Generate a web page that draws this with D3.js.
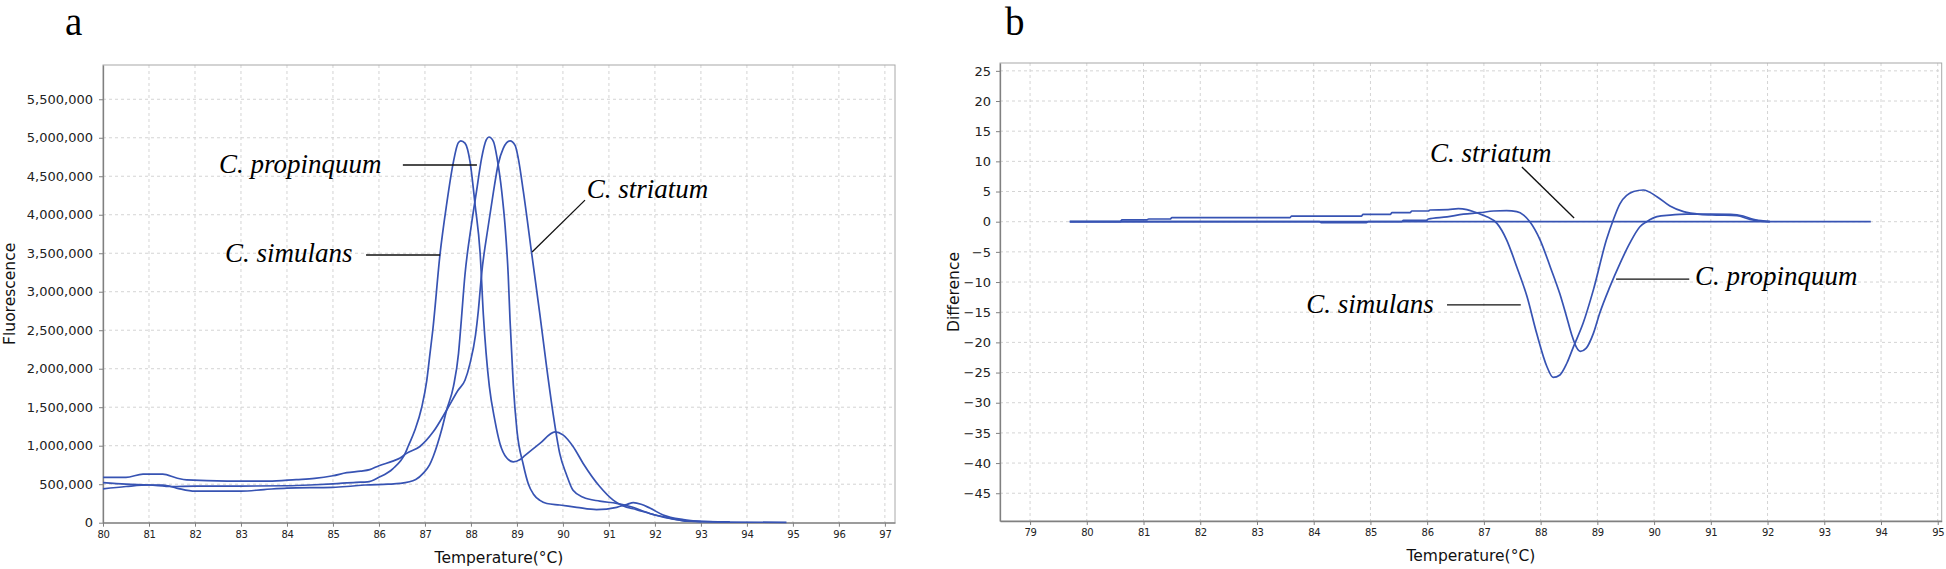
<!DOCTYPE html>
<html>
<head>
<meta charset="utf-8">
<script src="https://cdn.jsdelivr.net/npm/d3@7"></script>
<style>
  body { margin: 0; background: #fff; }
  .tick text { fill: #222; }
</style>
</head>
<body>
<svg id="chart" width="1946" height="569"></svg>
<script>
// ---- panel a : melt curves (fluorescence) ----
const temp_simulans_a = [80.0, 80.5, 81.0, 81.5, 82.0, 83.0, 84.0, 84.5, 85.0, 85.5, 85.75, 86.0, 86.3, 86.57, 86.64, 86.78, 86.93, 87.04, 87.11, 87.17, 87.33, 87.47, 87.62, 87.72, 87.78, 87.87, 87.98, 88.09, 88.2, 88.27, 88.33, 88.4, 88.52, 88.63, 88.78, 88.92, 89.07, 89.17, 89.5, 89.83, 90.0, 90.22, 90.44, 90.8, 91.1, 91.3, 91.6, 92.0, 92.4, 92.8, 93.63]
const fluo_simulans_a = [520000, 500000, 490000, 470000, 475000, 475000, 480000, 490000, 505000, 525000, 530000, 590000, 700000, 900000, 1000000, 1200000, 1500000, 1850000, 2200000, 2500000, 3500000, 4130000, 4690000, 4930000, 4960000, 4930000, 4690000, 4130000, 3500000, 2700000, 2200000, 1770000, 1330000, 1030000, 840000, 790000, 820000, 870000, 1030000, 1180000, 1140000, 990000, 770000, 470000, 290000, 220000, 170000, 100000, 45000, 20000, 10000]

const temp_propinquum_a = [80.0, 80.5, 81.0, 81.3, 81.6, 82.0, 83.0, 83.5, 84.0, 85.0, 85.3, 85.7, 86.2, 86.46, 86.8, 86.96, 87.1, 87.18, 87.36, 87.47, 87.62, 87.73, 87.78, 87.87, 88.01, 88.12, 88.23, 88.33, 88.39, 88.49, 88.57, 88.67, 88.74, 88.81, 88.85, 88.92, 89.0, 89.14, 89.25, 89.36, 89.5, 89.65, 89.93, 90.3, 90.73, 91.17, 91.4, 91.53, 91.7, 91.89, 92.18, 92.62, 93.0]
const fluo_propinquum_a = [440000, 470000, 490000, 490000, 450000, 410000, 410000, 430000, 450000, 460000, 470000, 490000, 500000, 510000, 560000, 640000, 750000, 860000, 1200000, 1460000, 1770000, 2200000, 2550000, 3220000, 3870000, 4300000, 4730000, 4970000, 5010000, 4950000, 4730000, 4300000, 3870000, 3220000, 2630000, 1800000, 1200000, 750000, 500000, 370000, 290000, 250000, 230000, 200000, 170000, 200000, 240000, 260000, 240000, 190000, 100000, 40000, 15000]

const temp_striatum_a = [80.0, 80.5, 80.87, 81.3, 81.6, 81.82, 82.7, 83.6, 84.2, 84.6, 85.0, 85.3, 85.6, 85.8, 86.0, 86.3, 86.46, 86.6, 86.89, 87.18, 87.47, 87.72, 87.87, 87.98, 88.1, 88.16, 88.23, 88.38, 88.49, 88.59, 88.7, 88.85, 88.96, 89.03, 89.14, 89.32, 89.5, 89.65, 89.79, 89.93, 90.08, 90.22, 90.44, 90.8, 91.17, 91.46, 91.89, 92.33, 92.7, 93.5, 94.86]
const fluo_striatum_a = [590000, 590000, 630000, 630000, 580000, 555000, 540000, 540000, 560000, 575000, 610000, 650000, 670000, 690000, 740000, 800000, 840000, 900000, 990000, 1180000, 1460000, 1720000, 1850000, 2070000, 2440000, 2750000, 3220000, 3870000, 4300000, 4650000, 4860000, 4960000, 4900000, 4730000, 4300000, 3500000, 2700000, 2000000, 1400000, 900000, 620000, 420000, 330000, 280000, 250000, 210000, 120000, 60000, 20000, 8000, 5000]

// ---- panel b : difference plot (reference C. striatum) ----
const temp_simulans_b = [79.7, 80.59, 80.62, 81.06, 81.09, 81.47, 81.5, 83.58, 83.61, 84.84, 84.87, 85.35, 85.38, 85.7, 85.73, 86.02, 86.05, 86.37, 86.55, 86.7, 86.82, 86.95, 87.05, 87.23, 87.4, 87.58, 87.76, 87.93, 88.11, 88.22, 88.34, 88.46, 88.58, 88.75, 88.93, 89.16, 89.28, 89.4, 89.64, 89.81, 90.05, 90.28, 90.52, 90.81, 91.1, 91.46, 91.69, 91.87, 92.04]
const diff_simulans_b = [0, 0, 0.3, 0.3, 0.45, 0.45, 0.66, 0.66, 0.94, 0.94, 1.22, 1.22, 1.5, 1.5, 1.77, 1.77, 1.94, 2.0, 2.16, 2.0, 1.66, 1.2, 0.83, -0.28, -3.0, -7.5, -12.4, -18.5, -24.0, -25.8, -25.4, -23.5, -20.7, -16.8, -11.3, -3.0, 0.28, 3.0, 5.0, 5.25, 4.15, 2.6, 1.66, 1.22, 1.1, 1.0, 0.39, 0.1, 0]

const temp_propinquum_b = [79.7, 84.1, 84.13, 84.93, 84.96, 85.55, 85.58, 85.99, 86.02, 86.35, 86.64, 86.93, 87.17, 87.4, 87.58, 87.7, 87.81, 87.99, 88.17, 88.34, 88.45, 88.55, 88.63, 88.7, 88.8, 88.93, 89.04, 89.22, 89.4, 89.57, 89.75, 89.87, 90.05, 90.28, 90.58, 91.0, 91.35, 91.57, 91.75, 91.98, 92.04]
const diff_propinquum_b = [0, 0, -0.17, -0.17, 0, 0, 0.22, 0.22, 0.45, 0.8, 1.25, 1.49, 1.77, 1.82, 1.66, 1.1, 0, -3.0, -7.5, -12.0, -15.5, -18.8, -20.8, -21.5, -21.0, -18.5, -15.2, -10.8, -6.9, -3.6, -0.83, 0, 0.83, 1.1, 1.27, 1.27, 1.22, 0.94, 0.39, 0.06, 0]

const temp_striatum_b = [79.7, 93.82]
const diff_striatum_b = [0, 0]

// axis ticks
const ticks_x_a = d3.range(80, 98)
const ticks_y_a = d3.range(0, 5500001, 500000)
const ticks_x_b = d3.range(79, 96)
const ticks_y_b = d3.range(-45, 26, 5)

const svg = d3.select("#chart")
const curveColor = "#3753b3"

function zipSeries(ts, vs){
  return ts.map(function(t, i){ return [t, vs[i]] })
}

function drawPanel(cfg){
  const x = d3.scaleLinear().domain(cfg.xDomain).range([cfg.left, cfg.right])
  const y = d3.scaleLinear().domain(cfg.yDomain).range([cfg.bottom, cfg.top])
  const g = svg.append("g")

  // grille pointillée
  g.selectAll("line.vgrid").data(cfg.xTicks.filter(function(d){ return x(d) > cfg.left + 2 }))
    .enter().append("line")
    .attr("x1", function(d){ return x(d) }).attr("x2", function(d){ return x(d) })
    .attr("y1", cfg.top).attr("y2", cfg.bottom)
    .attr("stroke", "#d4d4d4").attr("stroke-dasharray", "3,3")
  g.selectAll("line.hgrid").data(cfg.yTicks.filter(function(d){ return y(d) < cfg.bottom - 2 }))
    .enter().append("line")
    .attr("x1", cfg.left).attr("x2", cfg.right)
    .attr("y1", function(d){ return y(d) }).attr("y2", function(d){ return y(d) })
    .attr("stroke", "#d4d4d4").attr("stroke-dasharray", "3,3")

  // cadre
  g.append("rect")
    .attr("x", cfg.left).attr("y", cfg.top)
    .attr("width", cfg.right - cfg.left).attr("height", cfg.bottom - cfg.top)
    .attr("fill", "none").attr("stroke", "#a8a8a8")

  // axes
  const ax = g.append("g").attr("transform", "translate(0," + cfg.bottom + ")")
    .call(d3.axisBottom(x).tickValues(cfg.xTicks).tickSize(4).tickSizeOuter(0).tickPadding(4).tickFormat(d3.format("d")))
  ax.selectAll("text").attr("font-family", "DejaVu Sans").attr("font-size", 10).attr("letter-spacing", -0.3)
  const ay = g.append("g").attr("transform", "translate(" + cfg.left + ",0)")
    .call(d3.axisLeft(y).tickValues(cfg.yTicks).tickSize(4).tickSizeOuter(0).tickPadding(cfg.yPad).tickFormat(cfg.yFormat))
  ay.selectAll("text").attr("font-family", "DejaVu Sans").attr("font-size", 13)
  g.selectAll(".domain").attr("stroke", "#808080").attr("stroke-width", 1.3)
  g.selectAll(".tick line").attr("stroke", "#808080")

  // titres d'axes
  g.append("text")
    .attr("x", (cfg.left + cfg.right) / 2).attr("y", cfg.bottom + 40)
    .attr("text-anchor", "middle")
    .attr("font-family", "DejaVu Sans").attr("font-size", 15.5).attr("fill", "#111")
    .text("Temperature(°C)")
  g.append("text")
    .attr("transform", "translate(" + cfg.yTitleX + "," + ((cfg.top + cfg.bottom) / 2) + ") rotate(-90)")
    .attr("text-anchor", "middle")
    .attr("font-family", "DejaVu Sans").attr("font-size", 15.5).attr("fill", "#111")
    .text(cfg.yTitle)

  // courbes
  const line = d3.line()
    .x(function(d){ return x(d[0]) })
    .y(function(d){ return y(d[1]) })
    .curve(d3.curveMonotoneX)
  g.selectAll("path.curve").data(cfg.series)
    .enter().append("path")
    .attr("d", line)
    .attr("fill", "none")
    .attr("stroke", curveColor)
    .attr("stroke-width", 1.7)

  // annotations des espèces
  cfg.notes.forEach(function(n){
    g.append("line")
      .attr("x1", x(n.lx1)).attr("y1", y(n.ly1))
      .attr("x2", x(n.lx2)).attr("y2", y(n.ly2))
      .attr("stroke", "#111").attr("stroke-width", 1.3)
    g.append("text")
      .attr("x", x(n.tx)).attr("y", y(n.ty))
      .attr("font-family", "Liberation Serif").attr("font-style", "italic")
      .attr("font-size", 27).attr("fill", "#000")
      .text(n.text)
  })

  // lettre du panneau
  g.append("text")
    .attr("x", cfg.letterX).attr("y", 35)
    .attr("font-family", "Liberation Serif").attr("font-size", 39).attr("fill", "#000")
    .text(cfg.letter)
}

drawPanel({
  left: 103, right: 895, top: 65, bottom: 522.7,
  xDomain: [80, 97.22], yDomain: [0, 5945000],
  xTicks: ticks_x_a, yTicks: ticks_y_a, yFormat: d3.format(","), yPad: 6,
  yTitle: "Fluorescence", yTitleX: 15,
  letter: "a", letterX: 65,
  series: [zipSeries(temp_simulans_a, fluo_simulans_a), zipSeries(temp_propinquum_a, fluo_propinquum_a), zipSeries(temp_striatum_a, fluo_striatum_a)],
  notes: [
    {text: "C. propinquum", tx: 82.52, ty: 4540000, lx1: 86.52, ly1: 4646000, lx2: 88.13, ly2: 4646000},
    {text: "C. simulans", tx: 82.65, ty: 3386000, lx1: 85.72, ly1: 3477000, lx2: 87.33, ly2: 3477000},
    {text: "C. striatum", tx: 90.52, ty: 4217000, lx1: 90.48, ly1: 4190000, lx2: 89.33, ly2: 3516000}
  ]
})

drawPanel({
  left: 1000, right: 1941.7, top: 63, bottom: 521,
  xDomain: [78.47, 95.07], yDomain: [-49.6, 26.3],
  xTicks: ticks_x_b, yTicks: ticks_y_b, yFormat: d3.format("d"), yPad: 5,
  yTitle: "Difference", yTitleX: 959,
  letter: "b", letterX: 1005,
  series: [zipSeries(temp_striatum_b, diff_striatum_b), zipSeries(temp_simulans_b, diff_simulans_b), zipSeries(temp_propinquum_b, diff_propinquum_b)],
  notes: [
    {text: "C. striatum", tx: 86.05, ty: 9.9, lx1: 87.67, ly1: 9.07, lx2: 88.59, ly2: 0.6},
    {text: "C. propinquum", tx: 90.72, ty: -10.5, lx1: 89.33, ly1: -9.5, lx2: 90.62, ly2: -9.5},
    {text: "C. simulans", tx: 83.87, ty: -15.13, lx1: 86.35, ly1: -13.8, lx2: 87.65, ly2: -13.8}
  ]
})
</script>
</body>
</html>
